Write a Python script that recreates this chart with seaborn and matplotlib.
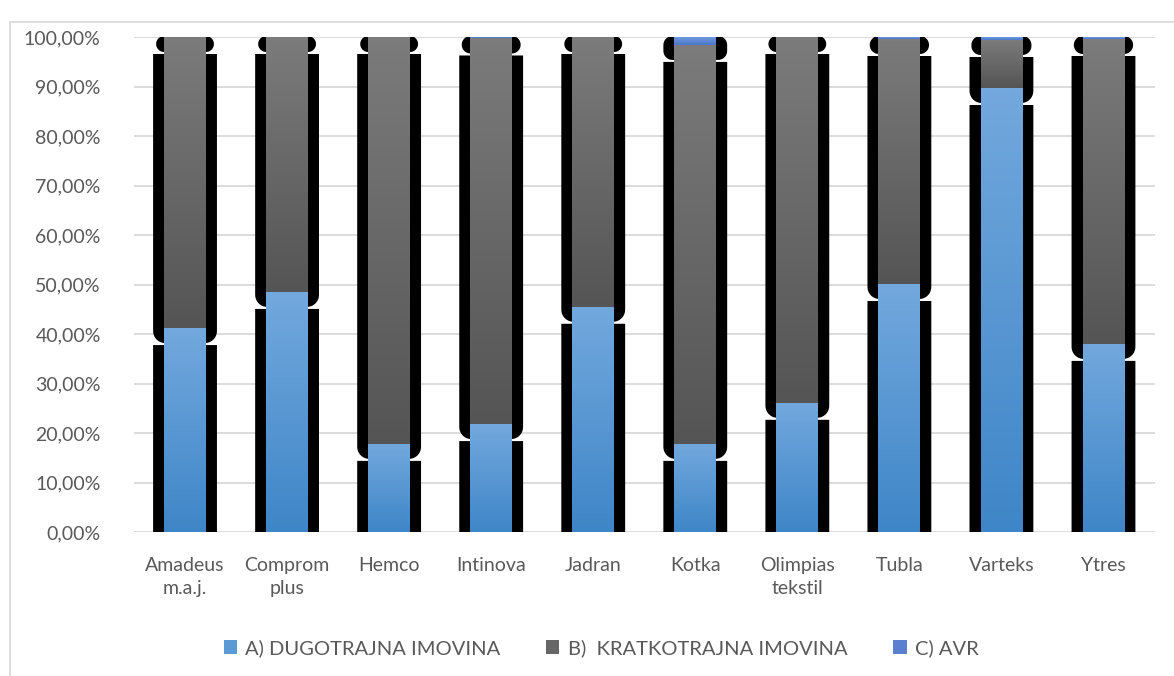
import numpy as np
import pandas as pd
import matplotlib
matplotlib.use("Agg")
import matplotlib.pyplot as plt
import seaborn as sns
from matplotlib.patches import Polygon, Patch
from matplotlib.transforms import IdentityTransform
from matplotlib.colors import LinearSegmentedColormap
from matplotlib.lines import Line2D

# ---------------- data ----------------
categories = ["Amadeus\nm.a.j.", "Comprom\nplus", "Hemco", "Intinova", "Jadran",
              "Kotka", "Olimpias\ntekstil", "Tubla", "Varteks", "Ytres"]
dugotrajna = [41.2, 48.5, 17.8, 21.8, 45.5, 17.8, 26.1, 50.1, 89.7, 38.0]
kratkotrajna = [58.8, 51.5, 82.2, 77.9, 54.5, 80.6, 73.9, 49.5, 9.7, 61.6]
avr = [0.0, 0.0, 0.0, 0.3, 0.0, 1.6, 0.0, 0.4, 0.6, 0.4]
series_names = ["A) DUGOTRAJNA IMOVINA", "B)  KRATKOTRAJNA IMOVINA", "C) AVR"]
ytick_values = [0, 10, 20, 30, 40, 50, 60, 70, 80, 90, 100]
ytick_labels = ["0,00%", "10,00%", "20,00%", "30,00%", "40,00%", "50,00%",
                "60,00%", "70,00%", "80,00%", "90,00%", "100,00%"]

# ---------------- style ----------------
sns.set_theme(style="white")
plt.rcParams["font.family"] = ["Lato", "DejaVu Sans"]
TXT = "#595959"
base_colors = ["#5b9bd5", "#666666", "#5a80cf"]
grad = [("#3f86c8", "#72a8dd"), ("#555555", "#7b7b7b"), ("#4a77c8", "#6e98df")]

W, H = 1174, 676
fig = plt.figure(figsize=(W / 100, H / 100), dpi=100)
ax = fig.add_axes([134 / W, 1 - 532 / H, (1154.5 - 134) / W, (532 - 37) / H])

values = [dugotrajna, kratkotrajna, avr]
bottom = np.zeros(len(categories))
for vals, col in zip(values, base_colors):
    sns.barplot(x=categories, y=vals, bottom=bottom.copy(), color=col,
                saturation=1, width=0.41, errorbar=None, ax=ax,
                order=categories, zorder=3)
    bottom = bottom + np.array(vals)

containers = list(ax.containers)
ax.set_xlim(-0.5, len(categories) - 0.5)
ax.set_ylim(0, 100)


def rounded_poly(left, right, bot, top, r, round_top, n=10):
    pts = []
    for a in np.linspace(np.pi, 1.5 * np.pi, n):
        pts.append((left + r + r * np.cos(a), bot + r + r * np.sin(a)))
    for a in np.linspace(1.5 * np.pi, 2 * np.pi, n):
        pts.append((right - r + r * np.cos(a), bot + r + r * np.sin(a)))
    if round_top:
        for a in np.linspace(0, 0.5 * np.pi, n):
            pts.append((right - r + r * np.cos(a), top - r + r * np.sin(a)))
        for a in np.linspace(0.5 * np.pi, np.pi, n):
            pts.append((left + r + r * np.cos(a), top - r + r * np.sin(a)))
    else:
        pts.append((right, top))
        pts.append((left, top))
    return np.array(pts)


# shadow / outline effect (pixel space)
to_px = ax.transData.transform
last = len(containers) - 1
for k, cont in enumerate(containers):
    for p in cont.patches:
        x0, y0 = to_px((p.get_x(), p.get_y()))
        x1, y1 = to_px((p.get_x() + p.get_width(), p.get_y() + p.get_height()))
        hpx = y1 - y0
        if k == last:
            ext = 8 + 3.0 * min(hpx, 8) / 8
            bot, top = y0 - 15, y1 + 1
            r = min(9, (top - bot) / 2)
            rt = True
        else:
            ext = 11
            bot, top = y0 - 15, y1 - 17
            if top - bot <= 1:
                continue
            r = min(12, top - bot)
            rt = False
        poly = Polygon(rounded_poly(x0 - ext, x1 + ext, bot, top, r, rt),
                       closed=True, transform=IdentityTransform(),
                       facecolor="black", edgecolor="none", zorder=2)
        ax.add_patch(poly)

# gradient fills for segments
for cont, (cb, ct) in zip(containers, grad):
    cmap = LinearSegmentedColormap.from_list("g", [cb, ct])
    for p in cont.patches:
        p.set_edgecolor("none")
        x, y, w, h = p.get_x(), p.get_y(), p.get_width(), p.get_height()
        if h <= 0:
            continue
        im = ax.imshow(np.linspace(0, 1, 64).reshape(-1, 1), extent=[x, x + w, y, y + h],
                       origin="lower", cmap=cmap, aspect="auto", interpolation="bilinear",
                       zorder=3.5)
        im.set_clip_path(p)

ax.set_xlim(-0.5, len(categories) - 0.5)
ax.set_ylim(0, 100)
ax.set_aspect("auto")

ax.set_yticks(ytick_values)
ax.set_yticklabels(ytick_labels)
ax.yaxis.grid(True, color="#d9d9d9", linewidth=1.3)
ax.xaxis.grid(False)
ax.set_axisbelow(True)
for s in ax.spines.values():
    s.set_visible(False)
ax.tick_params(axis="y", length=0, pad=24, labelsize=14, labelcolor=TXT)
ax.tick_params(axis="x", length=0, pad=18, labelsize=14, labelcolor=TXT)
for t in ax.get_xticklabels():
    t.set_linespacing(1.42)
    t.set_verticalalignment("top")
ax.set_xlabel("")
ax.set_ylabel("")

# legend
handles = [Patch(facecolor=c, edgecolor="none") for c in base_colors]
fig.legend(handles, series_names, loc="center", bbox_to_anchor=(601 / W, 1 - 648 / H),
           ncol=3, frameon=False, fontsize=14.5, labelcolor=TXT, handlelength=0.65,
           handleheight=0.65, handletextpad=0.4, columnspacing=2.3)

# chart area border
fig.add_artist(Line2D([10, 10], [0, H - 22], transform=IdentityTransform(),
                      color="#d9d9d9", linewidth=1.2))
fig.add_artist(Line2D([10, W], [H - 22, H - 22], transform=IdentityTransform(),
                      color="#d9d9d9", linewidth=1.2))

fig.savefig("out.png", dpi=100)
